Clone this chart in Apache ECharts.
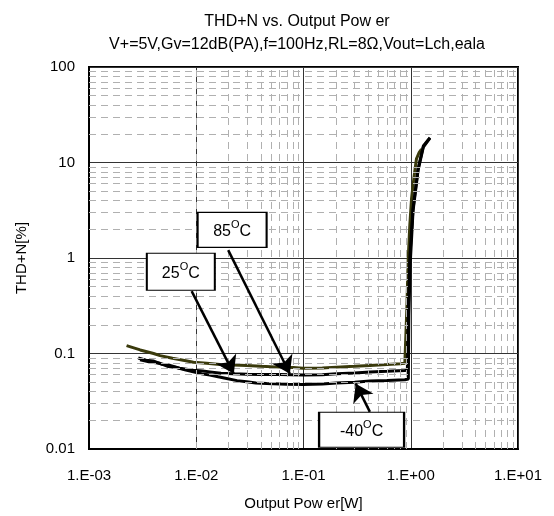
<!DOCTYPE html>
<html>
<head>
<meta charset="utf-8">
<script src="https://cdn.jsdelivr.net/npm/echarts@6/dist/echarts.min.js"></script>
<style>
  html, body { margin: 0; padding: 0; background: #fff; }
  #chart { width: 554px; height: 516px; }
</style>
</head>
<body>
<div id="chart"></div>
<script>
// ---------------- data ----------------
const xTickLabels = ['1.E-03', '1.E-02', '1.E-01', '1.E+00', '1.E+01'];
const yTickLabels = ['0.01', '0.1', '1', '10', '100'];

// Olive curve
const olivePower = [0.00224, 0.0030, 0.0040, 0.0046, 0.0060, 0.0080, 0.0094, 0.0125, 0.0166, 0.0220, 0.0295, 0.0400, 0.0603, 0.0800, 0.0993, 0.150, 0.203, 0.300, 0.416, 0.600, 0.800, 0.881, 0.900, 0.920, 0.946, 0.980, 1.017, 1.08, 1.13, 1.20, 1.26];
const oliveThd   = [0.121, 0.109, 0.100, 0.095, 0.089, 0.084, 0.081, 0.079, 0.0767, 0.0757, 0.0750, 0.0735, 0.0720, 0.0715, 0.0702, 0.0705, 0.0720, 0.0735, 0.0750, 0.0765, 0.0780, 0.0790, 0.082, 0.30, 0.95, 2.2, 4.17, 7.5, 10.9, 12.8, 13.8];

// Middle black curve
const midPower = [0.00288, 0.0034, 0.00397, 0.0048, 0.00569, 0.0070, 0.00938, 0.0115, 0.0134, 0.0170, 0.0221, 0.030, 0.0393, 0.0603, 0.0993, 0.150, 0.203, 0.300, 0.416, 0.600, 0.881, 0.93, 0.95, 0.98, 1.05, 1.17, 1.31, 1.51];
const midThd   = [0.0898, 0.0850, 0.0835, 0.0770, 0.0752, 0.0700, 0.0668, 0.0655, 0.0642, 0.0622, 0.0614, 0.0606, 0.0604, 0.0603, 0.0594, 0.0600, 0.0612, 0.0625, 0.0639, 0.0650, 0.0665, 0.0670, 0.30, 1.0, 3.28, 8.55, 14.9, 18.2];

// Lower black curve
const lowPower = [0.00299, 0.0037, 0.00459, 0.0055, 0.00656, 0.0080, 0.00938, 0.0113, 0.0134, 0.0160, 0.0192, 0.0240, 0.0295, 0.0360, 0.0453, 0.0700, 0.0993, 0.150, 0.203, 0.300, 0.416, 0.600, 0.881, 0.95, 0.96, 0.99, 1.05, 1.17, 1.31, 1.51];
const lowThd   = [0.0857, 0.0815, 0.0790, 0.0730, 0.0712, 0.0670, 0.0645, 0.0612, 0.0595, 0.0570, 0.0548, 0.0520, 0.0506, 0.0490, 0.0484, 0.0476, 0.0475, 0.0480, 0.0491, 0.0500, 0.0515, 0.0520, 0.0530, 0.0540, 0.25, 0.9, 3.1, 8.3, 14.5, 18.0];

// Annotation labels
const annotationLabels = ['85', '25', '-40'];

// minor grid multipliers and decades
const minorMultipliers = [2, 3, 4, 5, 6, 7, 8, 9];
const xDecades = [0.001, 0.01, 0.1, 1];
const yDecades = [0.01, 0.1, 1, 10];

// ---------------- build ----------------
function pairs(xs, ys) { return xs.map((x, i) => [x, ys[i]]); }

const FONT = 'Liberation Sans, Arial, sans-serif';

const minorLines = [];
xDecades.forEach(d => minorMultipliers.forEach(m => minorLines.push({ xAxis: +(d * m).toPrecision(3) })));
yDecades.forEach(d => minorMultipliers.forEach(m => minorLines.push({ yAxis: +(d * m).toPrecision(3) })));

// annotation boxes (data coords) and arrows
const boxes = [
  { coord: [0.0216, 1.97], size: [69, 35], label: annotationLabels[0] },
  { coord: [0.00718, 0.718], size: [68, 37], label: annotationLabels[1] },
  { coord: [0.348, 0.0159], size: [85, 35], label: annotationLabels[2] }
];
const arrows = [
  [[0.01986, 1.21], [0.0746, 0.0613]],
  [[0.00906, 0.45], [0.0224, 0.0612]],
  [[0.416, 0.0245], [0.307, 0.0483]]
];

const chart = echarts.init(document.getElementById('chart'), null, { renderer: 'canvas' });

const option = {
  backgroundColor: '#fff',
  animation: false,
  title: {
    text: 'THD+N vs. Output Pow er',
    subtext: 'V+=5V,Gv=12dB(PA),f=100Hz,RL=8Ω,Vout=Lch,eala',
    left: 292,
    textAlign: 'center',
    top: 9,
    itemGap: 7,
    textStyle: { fontFamily: FONT, fontSize: 16, fontWeight: 'normal', color: '#000' },
    subtextStyle: { fontFamily: FONT, fontSize: 16, color: '#000' }
  },
  grid: {
    left: 89, right: 36, top: 67, bottom: 64,
    show: true, borderColor: '#000', borderWidth: 2, backgroundColor: '#fff'
  },
  xAxis: {
    type: 'log', logBase: 10, min: 0.001, max: 10,
    name: 'Output Pow er[W]', nameLocation: 'middle', nameGap: 47,
    nameTextStyle: { fontFamily: FONT, fontSize: 15, color: '#000' },
    axisLine: { show: true, lineStyle: { color: '#000', width: 2 } },
    axisTick: { show: false },
    axisLabel: {
      fontFamily: FONT, fontSize: 15, color: '#000', margin: 19,
      formatter: v => xTickLabels[Math.round(Math.log10(v)) + 3]
    },
    splitLine: { show: true, lineStyle: { color: '#333', width: 1 } }
  },
  yAxis: {
    type: 'log', logBase: 10, min: 0.01, max: 100,
    name: 'THD+N[%]', nameLocation: 'middle', nameGap: 60, nameRotate: 90,
    nameTextStyle: { fontFamily: FONT, fontSize: 15, color: '#000' },
    axisLine: { show: true, lineStyle: { color: '#000', width: 2 } },
    axisTick: { show: false },
    axisLabel: {
      fontFamily: FONT, fontSize: 15, color: '#000', margin: 14,
      formatter: v => yTickLabels[Math.round(Math.log10(v)) + 2]
    },
    splitLine: { show: true, lineStyle: { color: '#333', width: 1 } }
  },
  series: [
    {
      name: 'minor-grid', type: 'line', data: [], z: 1, silent: true,
      markLine: {
        silent: true, symbol: ['none', 'none'], animation: false,
        label: { show: false },
        lineStyle: { color: '#b0b0b0', width: 1, type: [7, 5] },
        emphasis: { disabled: true },
        data: minorLines
      }
    },
    {
      name: '85°C', type: 'line', data: pairs(olivePower, oliveThd), z: 3,
      showSymbol: false, symbol: 'none',
      lineStyle: { color: '#3a3a0c', width: 3 }
    },
    {
      name: '25°C', type: 'line', data: pairs(midPower, midThd), z: 3,
      showSymbol: false, symbol: 'none',
      lineStyle: { color: '#000', width: 3 }
    },
    {
      name: '-40°C', type: 'line', data: pairs(lowPower, lowThd), z: 3,
      showSymbol: false, symbol: 'none',
      lineStyle: { color: '#000', width: 3 }
    },
    {
      name: 'annotations', type: 'line', data: [], z: 5, silent: true,
      itemStyle: { color: '#000' },
      markLine: {
        silent: true, animation: false,
        symbol: ['none', 'arrow'], symbolSize: 17,
        label: { show: false },
        itemStyle: { color: '#000' },
        lineStyle: { color: '#000', width: 2.5, type: 'solid' },
        emphasis: { disabled: true },
        data: arrows.map(a => [
          { coord: a[0], symbol: 'none' },
          { coord: a[1], symbol: 'arrow', symbolSize: 17, itemStyle: { color: '#000' } }
        ])
      },
      markPoint: {
        silent: true, animation: false,
        data: boxes.map(b => ({
          coord: b.coord,
          symbol: 'rect',
          symbolSize: b.size,
          itemStyle: { color: '#fff', borderColor: '#000', borderWidth: 1.5 },
          label: {
            show: true, position: 'inside',
            formatter: '{t|' + b.label + '}{s|O}{t|C}',
            rich: {
              t: { fontFamily: FONT, fontSize: 16, color: '#000', lineHeight: 20, verticalAlign: 'bottom' },
              s: { fontFamily: FONT, fontSize: 11, color: '#000', lineHeight: 20, verticalAlign: 'top' }
            }
          }
        }))
      }
    }
  ]
};
chart.setOption(option);
</script>
</body>
</html>
